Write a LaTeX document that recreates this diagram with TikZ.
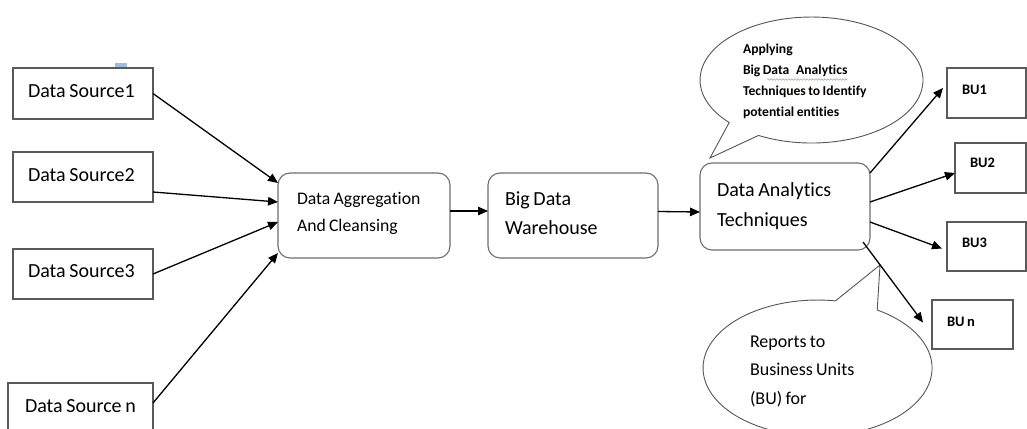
\documentclass[tikz,border=0pt]{standalone}
\usepackage{fontspec}
\setmainfont[Ligatures={NoCommon}, WordSpace=0.8]{Carlito}
\usetikzlibrary{arrows.meta,calc,decorations.pathmorphing}

\definecolor{boxline}{HTML}{5A5A5A}
\definecolor{roundline}{HTML}{6E6E6E}
\definecolor{bubbleline}{HTML}{555555}
\definecolor{marker}{HTML}{9DBCE0}
\definecolor{squiggle}{HTML}{8DB88D}

% use the font's own interword space inside multi-line labels
\newcommand\natsp{\spaceskip=0pt\xspaceskip=0pt\relax}

\tikzset{
  srcbox/.style={draw=boxline, line width=1.1pt, fill=white, inner sep=0pt, outer sep=0pt},
  stagebox/.style={draw=roundline, line width=1.1pt, rounded corners=12pt, fill=white,
                   inner sep=0pt, outer sep=0pt},
  bubble/.style={draw=bubbleline, line width=0.9pt, fill=white},
  txt/.style={inner sep=0pt, outer sep=0pt, anchor=base west, align=left},
  mtxt/.style={txt, text width=#1},
  flow/.style={draw=black, line width=1.3pt, -{Triangle[length=10pt,width=8.5pt]}}
}

\begin{document}
\begin{tikzpicture}[x=1pt,y=-1pt]
  \useasboundingbox (0,0) rectangle (1027,428);
  \clip (0,0) rectangle (1027,428);
  \fill[white] (0,0) rectangle (1027,428);

  % small marker above the first source
  \fill[marker] (115,63) rectangle (127,68);

  % data sources
  \node[srcbox, minimum width=140pt, minimum height=51pt] (ds1) at (83,93.5) {};
  \node[srcbox, minimum width=140pt, minimum height=50pt] (ds2) at (83,177) {};
  \node[srcbox, minimum width=140pt, minimum height=50pt] (ds3) at (83,274) {};
  \node[srcbox, minimum width=145pt, minimum height=57pt] (dsn) at (80.5,411.5) {};
  \begin{scope}[font=\fontsize{20}{24}\selectfont]
    \node[txt] (ds1t) at (28,97.5) {Data Source1};
    \node[txt] (ds2t) at (28,181) {Data Source2};
    \node[txt] (ds3t) at (28,277.5) {Data Source3};
    \node[txt] (dsnt) at (25,412.5) {Data Source n};
  \end{scope}

  % processing stages
  \node[stagebox, minimum width=172pt, minimum height=85pt] (agg) at (364,215.5) {};
  \node[stagebox, minimum width=170pt, minimum height=85pt] (wh)  at (573,215.5) {};
  \node[stagebox, minimum width=170pt, minimum height=87pt] (ana) at (785,206.5) {};
  \node[mtxt=170pt, font=\fontsize{17.7}{27.7}\selectfont] (aggt) at (297,204)
       {\natsp Data Aggregation\\And Cleansing};
  \node[mtxt=170pt, font=\fontsize{20}{29}\selectfont] (wht) at (505,205)
       {\natsp Big Data\\Warehouse};
  \node[mtxt=170pt, font=\fontsize{20}{30}\selectfont] (anat) at (717,196)
       {\natsp Data Analytics\\Techniques};

  % business units
  \node[srcbox, minimum width=79pt, minimum height=50pt] (bu1) at (986.5,93) {};
  \node[srcbox, minimum width=71pt, minimum height=50pt] (bu2) at (990.5,168) {};
  \node[srcbox, minimum width=79pt, minimum height=49pt] (bu3) at (986.5,246.5) {};
  \node[srcbox, minimum width=81pt, minimum height=49pt] (bun) at (972.5,324.5) {};
  \begin{scope}[font=\fontsize{14.5}{17}\selectfont\bfseries]
    \node[txt] (bu1t) at (962,94.3) {BU1};
    \node[txt] (bu2t) at (970,167.7) {BU2};
    \node[txt] (bu3t) at (962,247.3) {BU3};
    \node[txt] (bunt) at (947,326) {BU n};
  \end{scope}

  % speech bubble above the analytics stage
  \coordinate (tipA) at (710,158);
  \path[bubble] (729.2,122.5)
     arc[start angle=137.6, end angle=478.4, x radius=111.5, y radius=63]
     -- (tipA) -- cycle;
  \node[mtxt=180pt, font=\fontsize{13.6}{21}\selectfont\bfseries] (notea) at (743,53.3)
       {\natsp Applying\\Big Data\hspace{0.5em}Analytics\\Techniques to Identify\\potential entities};
  \draw[squiggle, line width=0.6pt,
        decorate, decoration={snake, amplitude=0.8pt, segment length=3pt}]
       (767,79.5) -- (847,79.5);

  % speech bubble below the analytics stage
  \coordinate (tipB) at (880,265);
  \path[bubble] (877.2,310)
     arc[start angle=301.4, end angle=639, x radius=114.5, y radius=68]
     -- (tipB) -- cycle;
  \node[mtxt=180pt, font=\fontsize{18}{28.5}\selectfont] (noteb) at (750,347.3)
       {\natsp Reports to\\Business Units\\(BU) for};

  % flow connectors
  \draw[flow] (ds1.east) -- ($(agg.west)+(0,-32.5)$);
  \draw[flow] ($(ds2.east)+(0,15)$) -- ($(agg.west)+(0,-13.5)$);
  \draw[flow] (ds3.east) -- ($(agg.west)+(0,6.5)$);
  \draw[flow] ($(dsn.east)+(0,-8.5)$) -- ($(agg.west)+(0,37.5)$);
  \draw[flow] ($(agg.east)+(0,-4.5)$) -- ($(wh.west)+(0,-4.5)$);
  \draw[flow] ($(wh.east)+(0,-4)$) -- ($(ana.west)+(0,5.5)$);
  \draw[flow] ($(ana.east)+(0,-33.5)$) -- ($(bu1.west)+(-4,-5)$);
  \draw[flow] ($(ana.east)+(0,-4.5)$) -- ($(bu2.west)+(0,5)$);
  \draw[flow] ($(ana.east)+(0,15.5)$) -- ($(bu3.west)+(-5,2)$);
  \draw[flow] ($(ana.south east)+(-7,-8)$) -- ($(bun.west)+(-9,-2)$);
\end{tikzpicture}
\end{document}
